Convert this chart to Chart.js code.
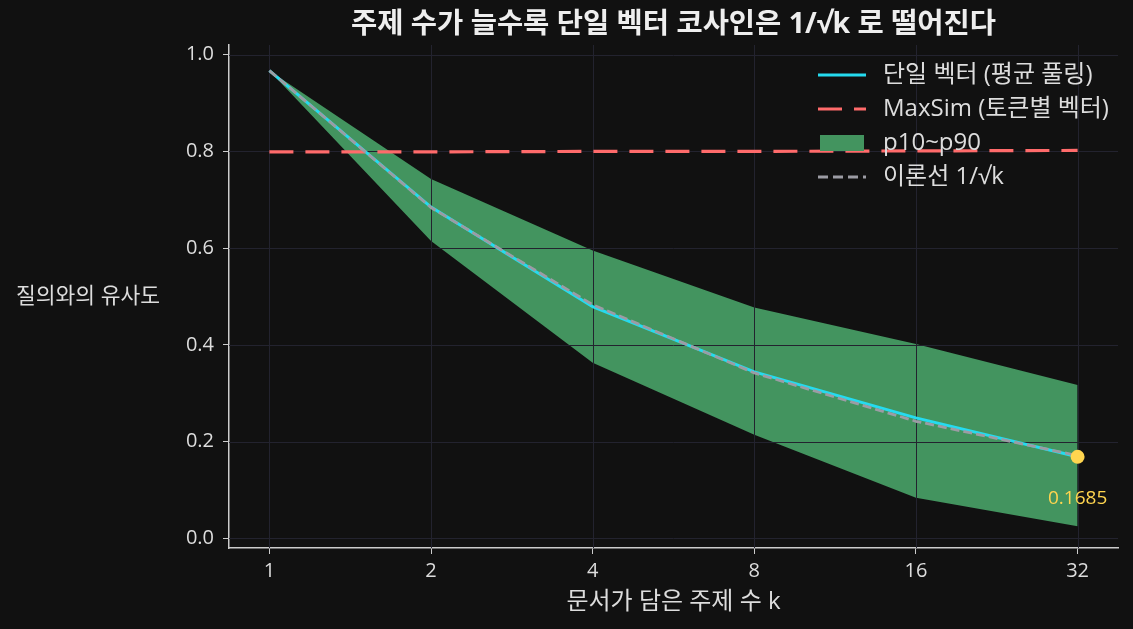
<!DOCTYPE html>
<html>
<head>
<meta charset="utf-8">
<script src="https://cdn.jsdelivr.net/npm/chart.js@4/dist/chart.umd.min.js"></script>
<style>
  html, body { margin: 0; padding: 0; background: #111111; }
  #wrap { width: 1133px; height: 629px; position: relative; }
</style>
</head>
<body>
<div id="wrap"><canvas id="c"></canvas></div>
<script>
// ---- data ----
const kValues = [1, 2, 4, 8, 16, 32];
const singleVector = [0.967, 0.685, 0.479, 0.344, 0.249, 0.1685];
const maxSim = [0.799, 0.799, 0.800, 0.800, 0.801, 0.802];
const bandP90 = [0.967, 0.743, 0.595, 0.477, 0.402, 0.317];
const bandP10 = [0.967, 0.615, 0.363, 0.214, 0.084, 0.025];
const theory = [0.967, 0.684, 0.483, 0.342, 0.242, 0.171];
const highlightK = 32;
const highlightValue = 0.1685;
const yTicks = [0.0, 0.2, 0.4, 0.6, 0.8, 1.0];

const titleText = '주제 수가 늘수록 단일 벡터 코사인은 1/√k 로 떨어진다';
const xTitle = '문서가 담은 주제 수 k';
const yTitle = '질의와의 유사도';
const legendLabels = ['단일 벡터 (평균 풀링)', 'MaxSim (토큰별 벡터)', 'p10~p90', '이론선 1/√k'];

const FONT = "'Open Sans', 'DejaVu Sans', 'Noto Sans CJK KR', sans-serif";
const C_CYAN = '#25dbef';
const C_RED = '#ff6b6b';
const C_BAND = '#43945f';
const C_GRAY = '#9c9ca4';
const C_YEL = '#ffd54f';
const C_GRID = '#23232f';
const C_AXIS = '#cccccc';
const C_TEXT = '#dddddd';

const pts = arr => arr.map((v, i) => ({ x: Math.log2(kValues[i]), y: v }));

const decor = {
  id: 'decor',
  afterDatasetDraw(chart, args) {
    if (args.index !== 0) return;
    const ctx = chart.ctx, a = chart.chartArea;
    const xs = chart.scales.x, ys = chart.scales.y;
    ctx.save();
    ctx.strokeStyle = C_GRID;
    ctx.lineWidth = 1;
    ctx.beginPath();
    kValues.forEach(k => {
      const px = Math.round(xs.getPixelForValue(Math.log2(k))) + 0.5;
      ctx.moveTo(px, a.top); ctx.lineTo(px, a.bottom);
    });
    yTicks.forEach(v => {
      const py = Math.round(ys.getPixelForValue(v)) + 0.5;
      ctx.moveTo(a.left, py); ctx.lineTo(a.right, py);
    });
    ctx.stroke();
    ctx.restore();
  },
  afterDraw(chart) {
    const ctx = chart.ctx, a = chart.chartArea;
    const xs = chart.scales.x, ys = chart.scales.y;
    ctx.save();
    ctx.textAlign = 'center';
    ctx.textBaseline = 'middle';
    // title
    ctx.fillStyle = '#eeeeee';
    ctx.font = 'bold 28.5px ' + FONT;
    ctx.fillText(titleText, (a.left + a.right) / 2, 25);
    // axis titles
    ctx.fillStyle = C_TEXT;
    ctx.font = '24px ' + FONT;
    ctx.fillText(xTitle, (a.left + a.right) / 2, 602);
    ctx.font = '21.5px ' + FONT;
    ctx.fillText(yTitle, 88, 297);
    // highlight label
    ctx.fillStyle = C_YEL;
    ctx.font = '19px ' + FONT;
    ctx.fillText(highlightValue.toFixed(4), xs.getPixelForValue(Math.log2(highlightK)), ys.getPixelForValue(highlightValue) + 42);
    // legend
    const rows = [75, 109, 143, 177];
    const sx0 = 818, sx1 = 866, tx = 883;
    ctx.lineCap = 'butt';
    ctx.strokeStyle = C_CYAN; ctx.lineWidth = 3; ctx.setLineDash([]);
    ctx.beginPath(); ctx.moveTo(sx0, rows[0]); ctx.lineTo(sx1, rows[0]); ctx.stroke();
    ctx.strokeStyle = C_RED; ctx.lineWidth = 3.2; ctx.setLineDash([24, 12]);
    ctx.beginPath(); ctx.moveTo(sx0, rows[1]); ctx.lineTo(sx1, rows[1]); ctx.stroke();
    ctx.setLineDash([]);
    ctx.fillStyle = C_BAND;
    ctx.fillRect(sx0 + 2, rows[2] - 8, sx1 - sx0 - 4, 16);
    ctx.strokeStyle = C_GRAY; ctx.lineWidth = 3; ctx.setLineDash([10, 5]);
    ctx.beginPath(); ctx.moveTo(sx0, rows[3]); ctx.lineTo(sx1, rows[3]); ctx.stroke();
    ctx.setLineDash([]);
    ctx.fillStyle = C_TEXT;
    ctx.font = '24px ' + FONT;
    ctx.textAlign = 'left';
    legendLabels.forEach((t, i) => ctx.fillText(t, tx, rows[i]));
    ctx.restore();
  }
};

new Chart(document.getElementById('c'), {
  type: 'line',
  data: {
    datasets: [
      { label: 'p90', data: pts(bandP90), borderWidth: 0, pointRadius: 0, fill: '+1', backgroundColor: C_BAND, borderColor: C_BAND, order: 10 },
      { label: 'p10', data: pts(bandP10), borderWidth: 0, pointRadius: 0, fill: false, borderColor: C_BAND, order: 9 },
      { label: legendLabels[0], data: pts(singleVector), borderColor: C_CYAN, borderWidth: 3, pointRadius: 0, fill: false, order: 5 },
      { label: legendLabels[1], data: pts(maxSim), borderColor: C_RED, borderWidth: 3.2, borderDash: [24, 12], pointRadius: 0, fill: false, order: 4 },
      { label: legendLabels[3], data: pts(theory), borderColor: C_GRAY, borderWidth: 2.8, borderDash: [9, 4], pointRadius: 0, fill: false, order: 3 },
      { label: 'highlight', data: [{ x: Math.log2(highlightK), y: highlightValue }], showLine: false, pointRadius: 7, pointBackgroundColor: C_YEL, pointBorderWidth: 0, borderColor: C_YEL, order: 1 }
    ]
  },
  options: {
    responsive: true,
    maintainAspectRatio: false,
    animation: false,
    layout: { padding: { top: 45, right: 15, left: 0, bottom: 0 } },
    plugins: { legend: { display: false }, title: { display: false }, tooltip: { enabled: false } },
    elements: { line: { tension: 0 } },
    scales: {
      x: {
        type: 'linear', min: -0.25, max: 5.25,
        afterBuildTicks: s => { s.ticks = kValues.map(k => ({ value: Math.log2(k) })); },
        afterFit: s => { s.height = 81; },
        ticks: { color: C_TEXT, font: { family: FONT, size: 20 }, padding: 5, maxRotation: 0,
          callback: v => String(Math.round(Math.pow(2, v))) },
        grid: { color: 'rgba(0,0,0,0)', tickColor: C_AXIS, tickLength: 6 },
        border: { color: C_AXIS, width: 1.5 }
      },
      y: {
        type: 'linear', min: -0.02, max: 1.02,
        afterBuildTicks: s => { s.ticks = yTicks.map(v => ({ value: v })); },
        afterFit: s => { s.width = 229; },
        ticks: { color: C_TEXT, font: { family: FONT, size: 20 }, padding: 9,
          callback: v => Number(v).toFixed(1) },
        grid: { color: 'rgba(0,0,0,0)', tickColor: C_AXIS, tickLength: 6 },
        border: { color: C_AXIS, width: 1.5 }
      }
    }
  },
  plugins: [decor]
});
</script>
</body>
</html>
